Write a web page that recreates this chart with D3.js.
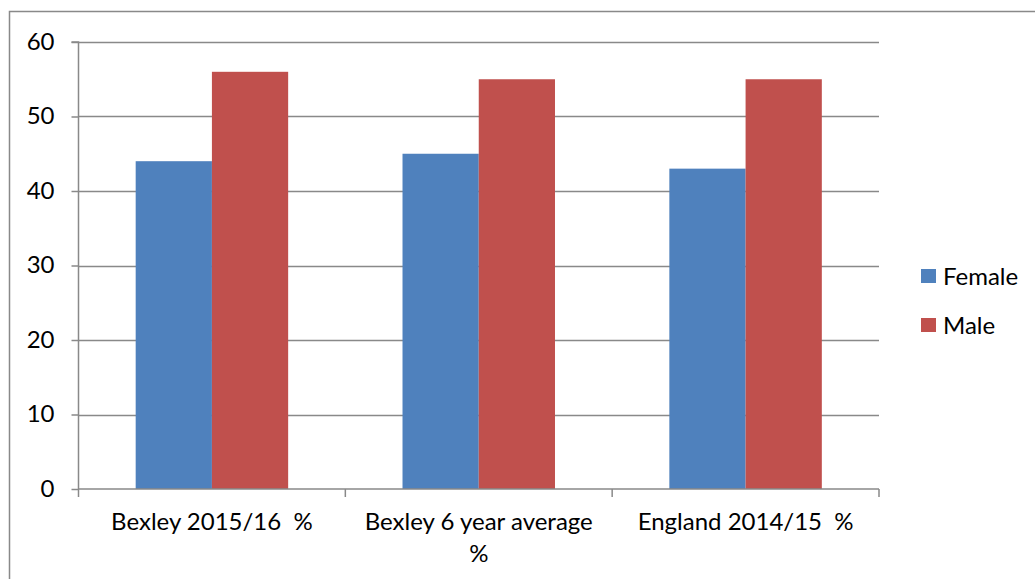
<!DOCTYPE html>
<html>
<head>
<meta charset="utf-8">
<script src="https://cdn.jsdelivr.net/npm/d3@7"></script>
<style>
  html, body { margin: 0; padding: 0; background: #fff; }
  svg text { font-family: Lato, "Open Sans", sans-serif; fill: #000; }
</style>
</head>
<body>
<svg id="chart" width="1035" height="579"></svg>
<script>
const categories = ["Bexley 2015/16  %", "Bexley 6 year average %", "England 2014/15  %"];
const seriesNames = ["Female", "Male"];
const femaleValues = [44, 45, 43];
const maleValues = [56, 55, 55];
const yTicks = [0, 10, 20, 30, 40, 50, 60];
const colors = ["#4F81BD", "#C0504D"];

(function () {
const svg = d3.select("#chart");
const gridColor = "#898989";
const fs = 24;

svg.append("rect")
  .attr("x", 9.5).attr("y", 11.5)
  .attr("width", 1040).attr("height", 580)
  .attr("fill", "none").attr("stroke", gridColor).attr("stroke-width", 1.5);

const pLeft = 78.5, pRight = 879, pTop = 42, pBottom = 489;

const x = d3.scaleBand().domain(categories).range([pLeft, pRight]).paddingInner(0).paddingOuter(0);
const y = d3.scaleLinear().domain([0, 60]).range([pBottom, pTop]);
const xs = d3.scaleBand().domain(seriesNames).range([0, x.bandwidth()]).paddingInner(0).paddingOuter(0.75);

const series = [femaleValues, maleValues];

svg.append("g").selectAll("line").data(yTicks.filter(d => d > 0)).join("line")
  .attr("x1", pLeft).attr("x2", pRight)
  .attr("y1", d => Math.round(y(d)) + 0.5).attr("y2", d => Math.round(y(d)) + 0.5)
  .attr("stroke", gridColor).attr("stroke-width", 1.5);

const groups = svg.append("g").selectAll("g").data(categories).join("g")
  .attr("transform", c => `translate(${x(c)},0)`);
groups.selectAll("rect").data((c, i) => seriesNames.map((s, j) => ({ s, v: series[j][i], j })))
  .join("rect")
  .attr("x", d => xs(d.s))
  .attr("width", xs.bandwidth())
  .attr("y", d => y(d.v))
  .attr("height", d => y(0) - y(d.v))
  .attr("fill", d => colors[d.j]);

const yAxis = d3.axisLeft(y).tickValues(yTicks).tickSize(7).tickPadding(17);
const yg = svg.append("g").attr("transform", `translate(${pLeft},0)`).call(yAxis);
yg.select(".domain").attr("stroke", gridColor).attr("stroke-width", 1.5).attr("d", `M-7,${pTop}H0V${pBottom}`);
yg.selectAll(".tick line").attr("stroke", gridColor).attr("stroke-width", 1.5);
yg.selectAll(".tick text").attr("font-size", fs).attr("font-family", "Lato").attr("fill", "#000").attr("dy", "0.30em");

const xAxis = d3.axisBottom(x).tickSize(0).tickPadding(0);
const xg = svg.append("g").attr("transform", `translate(0,${pBottom})`).call(xAxis);
xg.select(".domain").attr("stroke", gridColor).attr("stroke-width", 1.5).attr("d", `M${pLeft},0H${pRight}`);
xg.selectAll(".bound").data(d3.range(categories.length + 1)).join("line").attr("class", "bound")
  .attr("x1", i => pLeft + i * x.step()).attr("x2", i => pLeft + i * x.step())
  .attr("y1", 0).attr("y2", 8)
  .attr("stroke", gridColor).attr("stroke-width", 1.5);

xg.selectAll(".tick text").remove();
xg.selectAll(".tick").each(function(c) {
  const t = d3.select(this).append("text")
    .attr("text-anchor", "middle").attr("font-size", fs).attr("fill", "#000")
    .style("white-space", "pre").attr("y", 41);
  const words = c.split(" ");
  let line = [];
  let tspan = t.append("tspan").attr("x", 0).attr("dy", 0);
  for (const w of words) {
    line.push(w);
    tspan.text(line.join(" "));
    if (tspan.node().getComputedTextLength() > 240 && line.length > 1) {
      line.pop();
      tspan.text(line.join(" "));
      line = [w];
      tspan = t.append("tspan").attr("x", 0).attr("dy", 32).text(w);
    }
  }
});

const legend = svg.append("g").selectAll("g").data(seriesNames).join("g")
  .attr("transform", (d, i) => `translate(921,${269 + i * 49})`);
legend.append("rect").attr("width", 15).attr("height", 14).attr("fill", (d, i) => colors[i]);
legend.append("text").attr("x", 22).attr("y", 7).attr("dy", "0.36em")
  .attr("font-size", fs).text(d => d);
})();
</script>
</body>
</html>
